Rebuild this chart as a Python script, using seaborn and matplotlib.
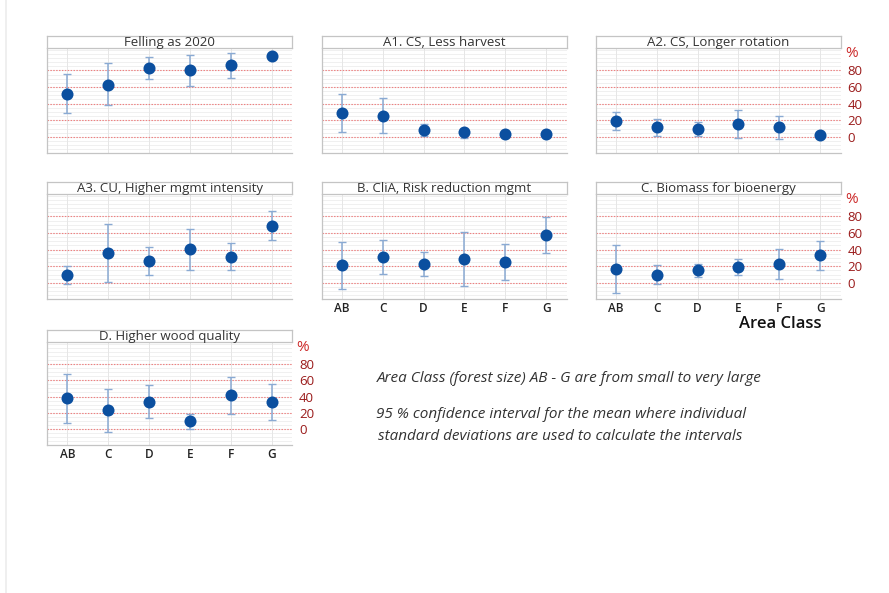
import numpy as np
import pandas as pd
import matplotlib
matplotlib.use("Agg")
import matplotlib.pyplot as plt
import matplotlib.transforms as mtransforms
from matplotlib.lines import Line2D
import seaborn as sns

# ---- data -------------------------------------------------------------
area_classes = ["AB", "C", "D", "E", "F", "G"]

panel_titles = [
    "Felling as 2020",
    "A1. CS, Less harvest",
    "A2. CS, Longer rotation",
    "A3. CU, Higher mgmt intensity",
    "B. CliA, Risk reduction mgmt",
    "C. Biomass for bioenergy",
    "D. Higher wood quality",
]

# mean share (%) and 95 % confidence interval bounds per area class
felling_mean = [52, 63, 83, 80, 86, 97]
felling_lo = [29, 38, 70, 61, 71, 97]
felling_hi = [76, 89, 96, 99, 101, 97]

a1_mean = [29, 25.5, 8, 6, 3.6, 2.8]
a1_lo = [6, 5, 1, -1, 3.6, 2.8]
a1_hi = [51.5, 46.5, 15, 10, 3.6, 2.8]

a2_mean = [19.5, 11.5, 9.5, 15, 11.5, 1.6]
a2_lo = [8, 1, 1, -1, -3, 1.6]
a2_hi = [30, 21.5, 18, 32, 25.5, 1.6]

a3_mean = [10, 36, 26.5, 41, 31.5, 69]
a3_lo = [-1, 1, 10, 15.5, 15, 52]
a3_hi = [20, 71, 43.5, 65, 48, 86]

b_mean = [21, 31.5, 23, 28.5, 25.5, 58]
b_lo = [-8, 11, 8, -3.5, 3.5, 36]
b_hi = [49, 51, 37, 61, 47, 79]

c_mean = [17, 10, 15, 19.5, 23, 33]
c_lo = [-12, -1, 7, 9.5, 4, 16]
c_hi = [46, 21, 23, 29, 41, 50]

d_mean = [38, 23, 33.5, 10.5, 41.5, 33.5]
d_lo = [8, -3, 13.5, 0, 19, 11.5]
d_hi = [68, 49, 54, 19, 63.5, 56]

ref_levels = [0, 20, 40, 60, 80]

series = [
    (felling_mean, felling_lo, felling_hi),
    (a1_mean, a1_lo, a1_hi),
    (a2_mean, a2_lo, a2_hi),
    (a3_mean, a3_lo, a3_hi),
    (b_mean, b_lo, b_hi),
    (c_mean, c_lo, c_hi),
    (d_mean, d_lo, d_hi),
]

rows = []
for title, (m, lo, hi) in zip(panel_titles, series):
    for i, ac in enumerate(area_classes):
        rows.append({"panel": title, "area": ac, "pos": i,
                     "mean": m[i], "lo": lo[i], "hi": hi[i]})
df = pd.DataFrame(rows)

# ---- style ------------------------------------------------------------
sns.set_theme(style="white")
plt.rcParams["font.family"] = ["Open Sans", "DejaVu Sans"]

W, H = 889, 593
fig = plt.figure(figsize=(W / 100, H / 100), dpi=100)
fig.patch.set_facecolor("white")

col_left = [47, 321.5, 595.5]
col_w = 245
row_box = [(48, 153), (194, 299), (342, 445)]
strip_h = 12.5

POINT_C = "#0b4f9f"
ERR_C = "#8aaad3"
RED_LINE = "#ee8080"
RED_TXT = "#9a1a1a"
SPINE_C = "#c4c4c4"

layout = {
    0: (0, 0, False, False),
    1: (0, 1, False, False),
    2: (0, 2, False, True),
    3: (1, 0, False, False),
    4: (1, 1, True, False),
    5: (1, 2, True, True),
    6: (2, 0, True, True),
}


def fig_rect(x0, y_top, w, h):
    return [x0 / W, 1 - (y_top + h) / H, w / W, h / H]


for k, title in enumerate(panel_titles):
    r, c, show_x, show_right = layout[k]
    top, bottom = row_box[r]
    ax = fig.add_axes(fig_rect(col_left[c], top, col_w, bottom - top))
    sub = df[df["panel"] == title]

    ax.set_xlim(-0.5, 5.5)
    ax.set_ylim(-19.5, 107)

    # faint background grid
    for y in np.arange(-15, 106, 5):
        ax.axhline(y, color="#eeeeee", lw=0.6, zorder=0)
    for x in range(len(area_classes)):
        ax.axvline(x, color="#e6e6e6", lw=0.7, zorder=0)
    for y in ref_levels:
        ax.axhline(y, color=RED_LINE, lw=0.8, ls=(0, (1.3, 1.3)), zorder=1)

    yerr = np.vstack([sub["mean"] - sub["lo"], sub["hi"] - sub["mean"]])
    ax.errorbar(sub["pos"], sub["mean"], yerr=yerr, fmt="none",
                ecolor=ERR_C, elinewidth=1.1, capsize=3, capthick=1.0,
                zorder=2)
    sns.scatterplot(data=sub, x="pos", y="mean", ax=ax, s=75,
                    color=POINT_C, edgecolor=POINT_C, linewidth=0,
                    zorder=3, legend=False)
    ax.set_xlabel("")
    ax.set_ylabel("")

    for side in ("top", "right"):
        ax.spines[side].set_visible(False)
    for side in ("left", "bottom"):
        ax.spines[side].set_color(SPINE_C)
        ax.spines[side].set_linewidth(0.9)

    ax.set_xticks(range(len(area_classes)))
    if show_x:
        ax.set_xticklabels(area_classes, fontsize=8.5, fontweight="semibold",
                           color="#222222")
    else:
        ax.set_xticklabels([])
    ax.tick_params(axis="x", length=0, pad=2)

    if show_right:
        ax.yaxis.tick_right()
        ax.set_yticks(ref_levels)
        ax.set_yticklabels([str(v) for v in ref_levels], fontsize=9.5,
                           color=RED_TXT, fontweight="medium")
        ax.tick_params(axis="y", length=0, pad=5)
        trans = mtransforms.blended_transform_factory(ax.transAxes, ax.transData)
        ax.text(1.045, 100, "%", transform=trans, ha="center", va="center",
                fontsize=11, color="#cc2a2a")
    else:
        ax.set_yticks([])

    # title strip
    sax = fig.add_axes(fig_rect(col_left[c], top - strip_h, col_w, strip_h))
    sax.set_xticks([])
    sax.set_yticks([])
    sax.set_facecolor("white")
    for sp in sax.spines.values():
        sp.set_color(SPINE_C)
        sp.set_linewidth(0.9)
    sax.text(0.5, 0.45, title, transform=sax.transAxes, ha="center",
             va="center", fontsize=9.5, color="#333333")

fig.text(780 / W, 1 - 324 / H, "Area Class", ha="center", va="center",
         fontsize=12, fontweight="semibold", color="#111111")

note_kw = dict(ha="left", va="center", fontsize=11, style="italic",
               color="#333333")
fig.text(377 / W, 1 - 378 / H,
         "Area Class (forest size) AB - G are from small to very large", **note_kw)
fig.text(376 / W, 1 - 415 / H,
         "95 % confidence interval for the mean where individual", **note_kw)
fig.text(378 / W, 1 - 436 / H,
         "standard deviations are used to calculate the intervals", **note_kw)

fig.add_artist(Line2D([6 / W, 6 / W], [0, 1], color="#ececec", lw=1.2,
                      transform=fig.transFigure))

fig.savefig("out.png", dpi=100, facecolor="white")
